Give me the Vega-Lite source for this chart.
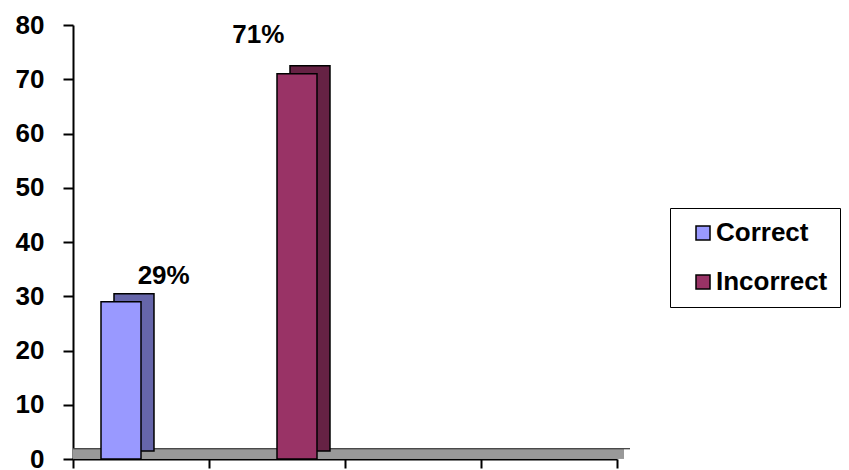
{
  "$schema": "https://vega.github.io/schema/vega-lite/v6.json",
  "width": 544,
  "height": 434,
  "autosize": {"type": "none"},
  "padding": {"left": 73, "top": 25, "right": 232, "bottom": 11},
  "background": "white",
  "config": {
    "view": {"stroke": null},
    "font": "Liberation Sans",
    "axis": {"zindex": 1, "grid": false, "domainColor": "black", "domainWidth": 2, "tickColor": "black", "tickWidth": 2, "title": null}
  },
  "data": {"values": [
    {"category": "1", "series": "Correct", "value": 29, "label": "29%"},
    {"category": "2", "series": "Incorrect", "value": 71, "label": "71%"}
  ]},
  "resolve": {"scale": {"color": "independent", "xOffset": "independent"}, "legend": {"color": "independent"}},
  "layer": [
    {
      "mark": {"type": "rule", "color": "#999999", "strokeWidth": 10, "xOffset": 7, "x2Offset": 7},
      "encoding": {
        "y": {"datum": 0.95, "type": "quantitative", "scale": {"domain": [0, 80], "nice": false},
          "axis": {"values": [0, 10, 20, 30, 40, 50, 60, 70, 80], "tickSize": 10, "labelPadding": 19, "labelFont": "Liberation Sans", "labelFontSize": 26, "labelFontWeight": "bold", "labelColor": "black"}}
      }
    },
    {
      "mark": {"type": "rule", "color": "#444444", "strokeWidth": 1, "xOffset": 13, "x2Offset": 13},
      "encoding": {
        "y": {"datum": 1.9, "type": "quantitative"}
      }
    },
    {
      "mark": {"type": "bar", "yOffset": -8, "y2Offset": -8, "stroke": "black", "strokeWidth": 1.5},
      "encoding": {
        "x": {"field": "category", "type": "nominal", "scale": {"domain": ["1", "2", "3", "4"], "paddingInner": 0, "paddingOuter": 0},
          "axis": {"labels": false, "tickBand": "extent", "tickSize": 9, "domain": true}},
        "y": {"field": "value", "type": "quantitative"},
        "xOffset": {"field": "series", "type": "nominal", "scale": {"domain": ["Correct", "Incorrect"], "paddingInner": 0, "paddingOuter": 0.7, "align": 0.732}},
        "color": {"field": "series", "type": "nominal", "scale": {"domain": ["Correct", "Incorrect"], "range": ["#6666AA", "#662244"]}, "legend": null}
      }
    },
    {
      "mark": {"type": "bar", "stroke": "black", "strokeWidth": 1.5},
      "encoding": {
        "x": {"field": "category", "type": "nominal"},
        "y": {"field": "value", "type": "quantitative"},
        "xOffset": {"field": "series", "type": "nominal", "scale": {"domain": ["Correct", "Incorrect"], "paddingInner": 0, "paddingOuter": 0.7}},
        "color": {"field": "series", "type": "nominal", "scale": {"domain": ["Correct", "Incorrect"], "range": ["#9999FF", "#993366"]},
          "legend": {"title": null, "orient": "none", "legendX": 597, "legendY": 183, "padding": 12, "strokeColor": "black", "symbolType": "square", "symbolSize": 196, "symbolStrokeColor": "black", "symbolStrokeWidth": 1.5, "symbolOffset": 8, "labelOffset": 0, "labelFont": "Liberation Sans", "labelFontSize": 26, "labelFontWeight": "bold", "labelColor": "black", "rowPadding": 23, "symbolOpacity": 1}}
      }
    },
    {
      "transform": [{"filter": "datum.series === 'Correct'"}],
      "mark": {"type": "text", "baseline": "alphabetic", "align": "center", "dx": 51, "dy": -18, "font": "Liberation Sans", "fontSize": 26, "fontWeight": "bold", "color": "black"},
      "encoding": {
        "x": {"field": "category", "type": "nominal"},
        "y": {"field": "value", "type": "quantitative"},
        "xOffset": {"field": "series", "type": "nominal", "scale": {"domain": ["Correct", "Incorrect"], "paddingInner": 0, "paddingOuter": 0.7}},
        "text": {"field": "label"}
      }
    },
    {
      "transform": [{"filter": "datum.series === 'Incorrect'"}],
      "mark": {"type": "text", "baseline": "alphabetic", "align": "center", "dx": -47, "dy": -31, "font": "Liberation Sans", "fontSize": 26, "fontWeight": "bold", "color": "black"},
      "encoding": {
        "x": {"field": "category", "type": "nominal"},
        "y": {"field": "value", "type": "quantitative"},
        "xOffset": {"field": "series", "type": "nominal", "scale": {"domain": ["Correct", "Incorrect"], "paddingInner": 0, "paddingOuter": 0.7}},
        "text": {"field": "label"}
      }
    }
  ]
}
